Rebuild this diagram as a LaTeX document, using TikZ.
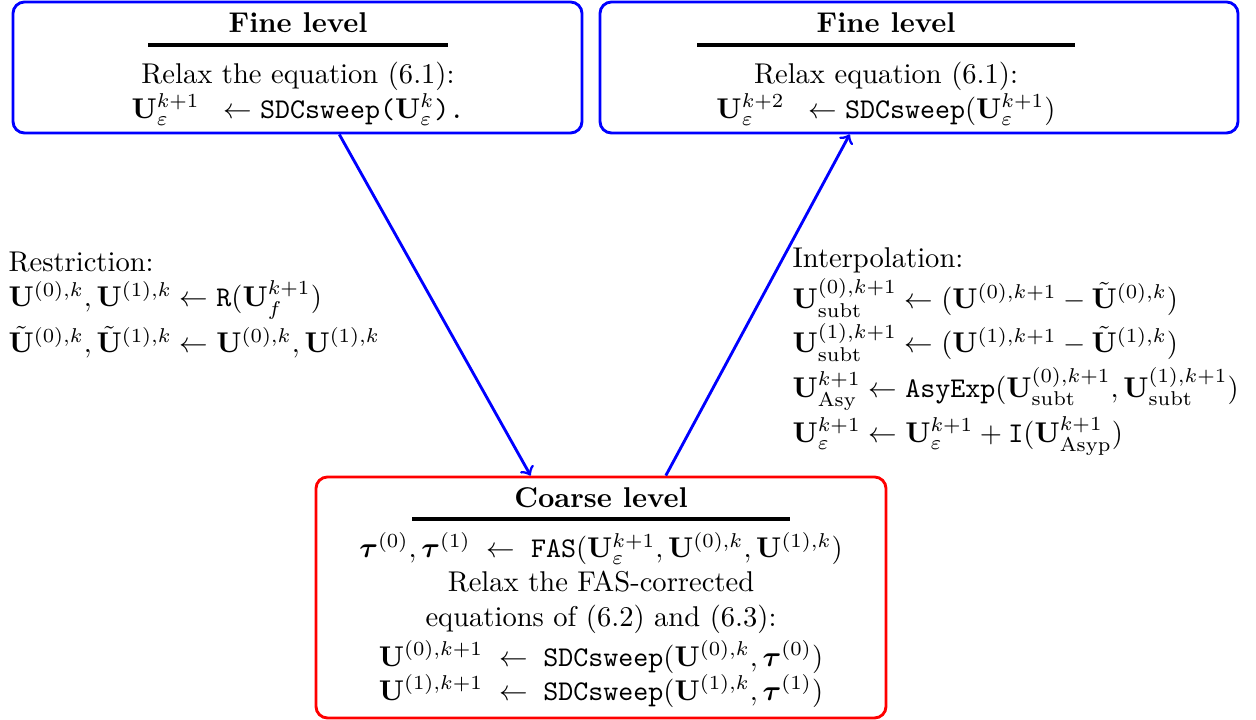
\documentclass[tikz,border=0pt]{standalone}
\usepackage{amsmath}
\usepackage{amssymb}
\usepackage{tikz}

\begin{document}
\begin{tikzpicture}[x=0.35pt, y=-0.35pt,
    levelbox/.style = {draw, rounded corners=4pt, line width=1pt, inner sep=0pt},
    fine/.style = {levelbox, blue, minimum height=45.85pt},
    coarse/.style = {levelbox, red, minimum width=199.5pt, minimum height=84.35pt},
    boxtext/.style = {inner sep=0pt, align=center},
    steptext/.style = {inner sep=0pt, align=left, anchor=west},
    transfer/.style = {->, blue, line width=1pt}]
        \useasboundingbox (0,0) rectangle (1256,720);
        % the three levels
        \node[fine, minimum width=199.15pt] (fineL) at (297.5,67.5) {};
        \node[fine, minimum width=223.3pt] (fineR) at (919,67.5) {};
        \node[coarse] (coarse) at (601,597.5) {};
        \node[boxtext] (fineLtext) at (298,69) {\textbf{Fine level}\\[-7pt]
            \rule{105pt}{1.4pt}\\[0.9pt]
            Relax the equation (6.1):\\
            $\mathbf{U}_{\varepsilon}^{k+1}\;\;\leftarrow\texttt{SDCsweep(}\mathbf{U}_{\varepsilon}^{k}\texttt{).}$};
        \node[boxtext] (fineRtext) at (886,69) {\textbf{Fine level}\\[-7pt]
            \rule{132pt}{1.4pt}\\[0.9pt]
            Relax equation (6.1):\\
            $\mathbf{U}_{\varepsilon}^{k+2}\;\;\leftarrow\texttt{SDCsweep}(\mathbf{U}_{\varepsilon}^{k+1})$};
        \node[boxtext] (coarsetext) at (601,597.5) {\textbf{Coarse level}\\[-7.1pt]
            \rule{132pt}{1.4pt}\\[0.6pt]
            $\boldsymbol{\tau}^{(0)},\boldsymbol{\tau}^{(1)}\;\leftarrow\;\texttt{FAS}(\mathbf{U}_{\varepsilon}^{k+1},\mathbf{U}^{(0),k},\mathbf{U}^{(1),k})$\\
            Relax the FAS-corrected\\
            equations of (6.2) and (6.3):\\[2pt]
            $\mathbf{U}^{(0),k+1}\;\leftarrow\;\texttt{SDCsweep}(\mathbf{U}^{(0),k},\boldsymbol{\tau}^{(0)})$\\
            $\mathbf{U}^{(1),k+1}\;\leftarrow\;\texttt{SDCsweep}(\mathbf{U}^{(1),k},\boldsymbol{\tau}^{(1)})$};
        % transfer between levels
        \node[steptext] (restrict) at (8,305) {Restriction:\\[0.5pt]
            $\mathbf{U}^{(0),k},\mathbf{U}^{(1),k}\leftarrow\texttt{R}(\mathbf{U}_{f}^{k+1})$\\[1.5pt]
            $\tilde{\mathbf{U}}^{(0),k},\tilde{\mathbf{U}}^{(1),k}\leftarrow\mathbf{U}^{(0),k},\mathbf{U}^{(1),k}$};
        \node[steptext] (interp) at (792,351.5) {Interpolation:\\[1pt]
            $\mathbf{U}_{\text{subt}}^{(0),k+1}\leftarrow(\mathbf{U}^{(0),k+1}-\tilde{\mathbf{U}}^{(0),k})$\\[1pt]
            $\mathbf{U}_{\text{subt}}^{(1),k+1}\leftarrow(\mathbf{U}^{(1),k+1}-\tilde{\mathbf{U}}^{(1),k})$\\[1pt]
            $\mathbf{U}_{\text{Asy}}^{k+1}\leftarrow\texttt{AsyExp}(\mathbf{U}_{\text{subt}}^{(0),k+1},\mathbf{U}_{\text{subt}}^{(1),k+1})$\\[1pt]
            $\mathbf{U}_{\varepsilon}^{k+1}\leftarrow\mathbf{U}_{\varepsilon}^{k+1}+\texttt{I}(\mathbf{U}_{\text{Asyp}}^{k+1})$};
        \draw[transfer] (fineL.-58.9) -- (coarse.120.5);
        \draw[transfer] (coarse.62) -- (fineR.-136.5);
      \end{tikzpicture}
\end{document}
